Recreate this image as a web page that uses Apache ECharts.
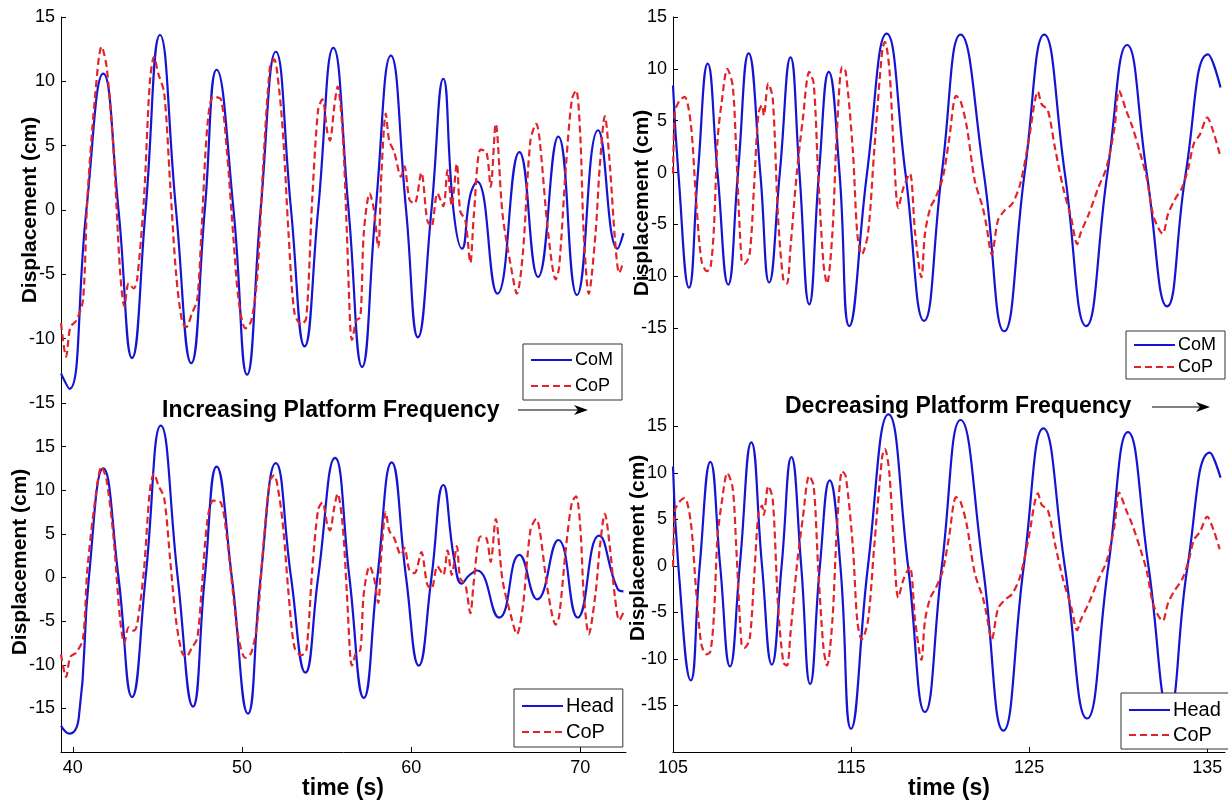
<!DOCTYPE html>
<html><head><meta charset="utf-8">
<script src="https://cdn.jsdelivr.net/npm/echarts@6/dist/echarts.min.js"></script>
<style>html,body{margin:0;padding:0;background:#fff}#chart{width:1228px;height:803px}</style>
</head><body><div id="chart"></div>
<script>
// ---- data (time s, displacement cm) ----
const comIncreasing = [[39.3,-12.7],[39.8,-13.9],[40.8,0],[41.8,10.6],[42.7,0],[43.5,-11.5],[44.3,0],[45.15,13.6],[46.1,0],[47.0,-11.9],[47.8,0],[48.5,10.9],[49.5,0],[50.3,-12.8],[51.1,0],[52.0,12.3],[52.9,0],[53.7,-10.6],[54.5,0],[55.4,12.6],[56.3,0],[57.1,-12.2],[57.9,0],[58.8,12.0],[59.7,0],[60.4,-9.9],[61.2,0],[61.9,10.2],[62.5,0],[63.0,-3.0],[63.5,1.2],[63.9,2.2],[65.1,-6.5],[66.4,4.5],[67.5,-5.2],[68.7,5.7],[69.8,-6.6],[71.05,6.2],[72.2,-3.0],[72.55,-1.8]];

const copIncreasing = [[39.3,-8.8],[39.6,-11.4],[39.85,-9.1],[40.2,-8.6],[40.6,-7.0],[40.85,0.7],[41.3,8.6],[41.7,12.7],[42.0,11.1],[42.4,4.7],[42.8,-4.9],[43.05,-7.5],[43.3,-5.7],[43.6,-6.1],[43.8,-5.4],[44.2,0.8],[44.55,9.9],[44.8,11.9],[45.05,10.6],[45.4,9.1],[45.75,2.1],[46.1,-4.9],[46.45,-8.6],[46.7,-9.1],[47.05,-8.0],[47.35,-7.0],[47.6,-1.8],[47.95,6.5],[48.3,8.8],[48.75,8.6],[49.1,4.7],[49.5,-2.3],[49.8,-7.0],[50.2,-9.2],[50.55,-8.6],[50.9,-5.2],[51.25,3.4],[51.65,11.1],[51.9,11.7],[52.2,9.3],[52.45,5.4],[52.75,-1.8],[53.1,-8.0],[53.5,-8.9],[53.8,-8.4],[54.15,0.8],[54.5,7.8],[54.75,8.6],[55.05,6.0],[55.2,5.4],[55.45,8.0],[55.65,9.6],[55.95,6.0],[56.2,-1.8],[56.4,-9.1],[56.5,-10.1],[56.75,-8.6],[57.0,-8.3],[57.2,-1.8],[57.55,1.3],[57.8,0],[58.05,-2.9],[58.25,3.1],[58.5,7.5],[58.7,5.4],[59.0,4.5],[59.4,2.6],[59.6,3.4],[59.9,0.8],[60.2,0.5],[60.6,2.9],[60.95,-0.8],[61.2,-1.3],[61.55,1.3],[61.9,0.3],[62.15,3.1],[62.4,0.3],[62.7,3.6],[62.9,-0.1],[63.2,-0.8],[63.5,-4.1],[63.7,-0.5],[64.1,4.7],[64.45,4.5],[64.7,1.8],[65.0,6.7],[65.4,-0.3],[65.9,-4.4],[66.25,-6.5],[66.6,-3.4],[67.05,5.4],[67.4,6.7],[67.6,5.4],[68.1,-1.8],[68.55,-5.4],[68.75,-4.4],[69.15,3.4],[69.5,8.6],[69.75,9.3],[70.0,5.7],[70.2,-1.8],[70.5,-6.5],[70.9,-1.8],[71.15,3.4],[71.45,7.3],[71.75,3.4],[72.05,-2.3],[72.3,-4.9],[72.55,-4.0]];

const headIncreasing = [[39.3,-17.0],[39.8,-17.9],[40.35,-16.1],[40.95,0],[41.8,12.5],[42.7,0],[43.5,-13.7],[44.3,0],[45.2,17.4],[46.2,0],[47.1,-14.8],[47.8,0],[48.5,12.7],[49.4,0],[50.35,-15.6],[51.1,0],[52.0,13.1],[52.9,0],[53.75,-10.9],[54.5,0],[55.5,13.7],[56.35,0],[57.2,-13.8],[58.0,0],[58.85,13.2],[59.7,0],[60.45,-10.1],[61.2,0],[61.9,10.6],[62.55,2.0],[63.0,-0.7],[63.4,0.2],[63.9,0.8],[65.2,-4.6],[66.4,2.6],[67.45,-2.5],[68.7,4.3],[69.85,-4.6],[71.1,4.8],[72.2,-1.3],[72.55,-1.6]];

const comDecreasing = [[105.0,8.4],[105.3,0],[105.9,-11.1],[106.4,0],[106.95,10.5],[107.5,0],[108.1,-10.8],[108.65,0],[109.25,11.5],[109.9,0],[110.4,-10.6],[111.0,0],[111.6,11.1],[112.1,0],[112.65,-12.7],[113.2,0],[113.75,9.7],[114.35,0],[114.9,-14.8],[115.9,0],[117.0,13.4],[118.05,0],[119.1,-14.3],[120.1,0],[121.15,13.3],[122.45,0],[123.6,-15.3],[124.75,0],[125.85,13.3],[127.0,0],[128.2,-14.8],[129.4,0],[130.5,12.3],[131.6,0],[132.75,-12.9],[133.8,0],[135.05,11.4],[135.75,8.2]];

const copDecreasing = [[105.0,-0.1],[105.1,6.0],[105.2,6.4],[105.4,7.0],[105.65,7.3],[106.0,4.7],[106.3,-2.7],[106.6,-8.5],[106.9,-9.5],[107.1,-9.2],[107.3,-5.3],[107.5,3.1],[107.75,7.0],[108.05,10.0],[108.35,8.4],[108.55,2.1],[108.85,-8.5],[109.0,-8.8],[109.3,-7.9],[109.55,-1.4],[109.8,5.7],[110.0,6.5],[110.1,5.5],[110.35,8.6],[110.6,7.2],[110.9,-4.3],[111.2,-10.4],[111.4,-10.7],[111.6,-7.2],[111.95,-0.1],[112.3,5.3],[112.65,9.7],[112.9,8.6],[113.15,-0.1],[113.45,-8.8],[113.65,-10.7],[113.95,-5.9],[114.2,3.8],[114.5,10.2],[114.7,9.7],[115.1,2.1],[115.35,-5.9],[115.6,-7.9],[115.95,-5.9],[116.3,2.1],[116.75,11.8],[116.9,12.6],[117.15,10.0],[117.4,2.1],[117.65,-3.4],[117.95,-1.4],[118.3,-0.1],[118.6,-5.9],[118.95,-10.1],[119.15,-5.9],[119.45,-3.4],[119.75,-2.4],[120.15,-0.5],[120.5,3.1],[120.9,7.4],[121.15,6.9],[121.5,4.4],[121.95,-0.8],[122.4,-3.4],[122.6,-5.1],[122.9,-7.9],[123.25,-4.6],[123.6,-3.7],[124.05,-3.0],[124.5,-1.1],[124.95,2.8],[125.5,7.8],[125.7,6.6],[126.05,6.0],[126.45,2.4],[126.9,-1.4],[127.35,-4.3],[127.7,-6.9],[127.9,-5.8],[128.35,-4.0],[128.9,-1.4],[129.35,0.5],[129.8,4.4],[130.05,7.9],[130.45,6.0],[130.8,4.4],[131.25,1.8],[131.6,-0.5],[132.0,-4.3],[132.5,-5.9],[132.8,-4.0],[133.15,-2.7],[133.6,-1.4],[133.95,0.5],[134.25,2.8],[134.6,3.7],[135.0,5.3],[135.35,3.9],[135.7,1.8]];

const headDecreasing = [[105.0,10.7],[105.3,0],[106.0,-12.3],[106.5,0],[107.1,11.2],[107.65,0],[108.2,-10.8],[108.75,0],[109.4,13.3],[110.0,0],[110.55,-10.6],[111.1,0],[111.65,11.7],[112.2,0],[112.7,-12.7],[113.25,0],[113.8,9.2],[114.4,0],[115.0,-17.5],[115.95,0],[117.1,16.3],[118.2,0],[119.15,-15.7],[120.1,0],[121.15,15.7],[122.4,0],[123.55,-17.7],[124.7,0],[125.8,14.8],[127.0,0],[128.25,-16.4],[129.45,0],[130.55,14.4],[131.7,0],[132.85,-15.5],[133.9,0],[135.15,12.2],[135.75,9.5]];

// ---- tick labels ----
const xTicksLeft = [40, 50, 60, 70];
const xTicksRight = [105, 115, 125, 135];
const yTicks = [-15, -10, -5, 0, 5, 10, 15];

// ---- text ----
const yTitle = 'Displacement (cm)';
const xTitle = 'time (s)';
const noteLeft = 'Increasing Platform Frequency';
const noteRight = 'Decreasing Platform Frequency';

const FONT = '"Liberation Sans", Arial, Helvetica, sans-serif';
const BLUE = '#1414d2';
const RED = '#e3232a';

const chart = echarts.init(document.getElementById('chart'), null, {renderer: 'canvas'});

function xAx(gi, min, max, ticks, show) {
  return {
    type: 'value', gridIndex: gi, min: min, max: max,
    axisLine: {show: show, onZero: false, lineStyle: {color: '#000', width: 1}},
    axisTick: {show: show, inside: true, length: 5, customValues: ticks, lineStyle: {color: '#000'}},
    axisLabel: {show: show, customValues: ticks, margin: 7, fontSize: 18, color: '#000', fontFamily: FONT},
    splitLine: {show: false}
  };
}
function yAx(gi, min, max) {
  return {
    type: 'value', gridIndex: gi, min: min, max: max,
    axisLine: {show: true, onZero: false, lineStyle: {color: '#000', width: 1}},
    axisTick: {show: true, inside: true, length: 5, customValues: yTicks, lineStyle: {color: '#000'}},
    axisLabel: {show: true, customValues: yTicks, margin: 6, fontSize: 18, color: '#000', fontFamily: FONT},
    splitLine: {show: false}
  };
}
function lineSeries(name, gi, data, color, dashed) {
  return {
    type: 'line', name: name, xAxisIndex: gi, yAxisIndex: gi, data: data,
    smooth: dashed ? 0.3 : 0.5, symbol: 'none', clip: true,
    lineStyle: {color: color, width: 2.2, type: dashed ? [7, 4] : 'solid'},
    itemStyle: {color: color},
    z: dashed ? 3 : 2
  };
}
function legendAt(left, top, names, fs, gap, pad) {
  return {
    orient: 'vertical', left: left, top: top, selectedMode: false,
    data: names.map(n => ({name: n})),
    itemWidth: 41, itemHeight: 2, itemGap: gap,
    itemStyle: {opacity: 0},
    padding: pad,
    backgroundColor: '#fff', borderColor: '#333', borderWidth: 1, borderRadius: 0,
    textStyle: {fontSize: fs, color: '#000', fontFamily: FONT, padding: [0, 0, 0, -2]}
  };
}
function vText(x, y, txt) {
  return {type: 'text', x: x, y: y, rotation: Math.PI / 2, z: 10,
    style: {text: txt, fontSize: 21, fontWeight: 'bold', fontFamily: FONT, fill: '#000', align: 'center', verticalAlign: 'middle'}};
}
function hText(x, y, txt, align) {
  return {type: 'text', x: x, y: y, z: 10,
    style: {text: txt, fontSize: 23, fontWeight: 'bold', fontFamily: FONT, fill: '#000', align: align, verticalAlign: 'middle'}};
}
function arrow(x1, x2, y) {
  return [
    {type: 'line', z: 10, shape: {x1: x1, y1: y, x2: x2 - 6, y2: y}, style: {stroke: '#000', lineWidth: 1.2}},
    {type: 'polygon', z: 10, shape: {points: [[x2, y], [x2 - 14, y - 5], [x2 - 10, y], [x2 - 14, y + 5]]}, style: {fill: '#000'}}
  ];
}

const option = {
  animation: false,
  backgroundColor: '#fff',
  grid: [
    {left: 61, top: 17, width: 565, height: 386},
    {left: 61, top: 403, width: 565, height: 349},
    {left: 673, top: 17, width: 552, height: 363},
    {left: 673, top: 380, width: 552, height: 372}
  ],
  xAxis: [
    xAx(0, 39.3, 72.7, xTicksLeft, false),
    xAx(1, 39.3, 72.7, xTicksLeft, true),
    xAx(2, 105, 136, xTicksRight, false),
    xAx(3, 105, 136, xTicksRight, true)
  ],
  yAxis: [yAx(0, -15, 15), yAx(1, -20, 20), yAx(2, -20, 15), yAx(3, -20, 20)],
  legend: [
    legendAt(523, 344, ['CoM', 'CoP'], 18, 8, [7, 9, 5, 7]),
    legendAt(514, 689, ['Head', 'CoP'], 20, 6, [7, 9, 5, 7]),
    legendAt(1126, 331, ['CoM', 'CoP'], 18, 4, [5, 9, 3, 7]),
    legendAt(1121, 693, ['Head', 'CoP'], 20, 5, [7, 9, 4, 7])
  ],
  series: [
    lineSeries('CoM', 0, comIncreasing, BLUE, false),
    lineSeries('CoP', 0, copIncreasing, RED, true),
    lineSeries('Head', 1, headIncreasing, BLUE, false),
    lineSeries('CoP', 1, copIncreasing, RED, true),
    lineSeries('CoM', 2, comDecreasing, BLUE, false),
    lineSeries('CoP', 2, copDecreasing, RED, true),
    lineSeries('Head', 3, headDecreasing, BLUE, false),
    lineSeries('CoP', 3, copDecreasing, RED, true)
  ],
  graphic: [
    vText(30, 210, yTitle),
    vText(20, 562, yTitle),
    vText(642, 203, yTitle),
    vText(638, 548, yTitle),
    hText(343, 789, xTitle, 'center'),
    hText(949, 789, xTitle, 'center'),
    hText(162, 411, noteLeft, 'left'),
    hText(785, 407, noteRight, 'left')
  ].concat(arrow(518, 588, 410), arrow(1152, 1210, 407))
};
chart.setOption(option);
</script>
</body></html>
